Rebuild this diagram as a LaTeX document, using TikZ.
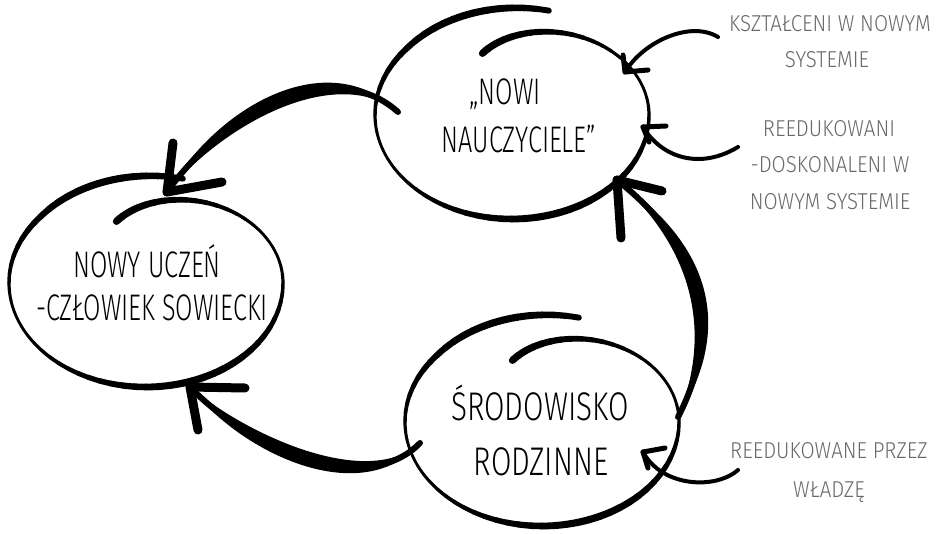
\documentclass[tikz,border=0pt]{standalone}
\usepackage{fontspec}
\setmainfont{Liberation Sans}
\newfontfamily\handA[FakeStretch=0.68, UprightFont={* Light}]{Fira Sans}
\newfontfamily\handC[FakeStretch=0.74, UprightFont={* Light}]{Fira Sans}
\newfontfamily\handG[FakeStretch=0.89, UprightFont={* Light}]{Fira Sans}
\definecolor{labelgray}{RGB}{105,105,105}
\newcommand\handloop[2]{%
  \foreach \ea in {75,80,...,465} {
    \pgfmathsetmacro{\eb}{\ea+5}
    \pgfmathsetmacro{\ew}{5+2.2*cos(2*(\ea+2.5-110))}
    \draw[line width=\ew pt, line cap=round]
      plot[domain=\ea:\eb, samples=4, variable=\t]
      ({#1+137*hs(\t)*cos(\t)}, {#2-104*hs(\t)*sin(\t)});
  }}
\begin{document}
\begin{tikzpicture}[x=1pt,y=-1pt,
  declare function={hs(\t)=1+0.0006*max(0,140-\t)-0.000028*(max(0,\t-360))^2;},
  bigtext/.style={anchor=base, inner sep=0pt, text=black, font=\handA\fontsize{37}{42}\selectfont},
  bigtextc/.style={anchor=base, inner sep=0pt, text=black, font=\handC\fontsize{40}{46}\selectfont},
  graytext/.style={anchor=base, inner sep=0pt, text=labelgray, font=\handG\fontsize{23}{27}\selectfont},
  shaft/.style={line width=6pt, line cap=round},
  barb/.style={line width=9pt, line cap=round},
  thinarrow/.style={line width=4pt, line cap=round},
  thinbarb/.style={line width=5pt, line cap=round}]
\fill[white] (0,0) rectangle (941,534);
\useasboundingbox (0,0) rectangle (941,534);

% hand-drawn loops
\handloop{512}{115}
\handloop{146}{283}
\handloop{542}{422}

% texts
\node[bigtext] (t1a) at (505,105) {„NOWI};
\node[bigtext] (t1b) at (519,153) {NAUCZYCIELE”};
\node[bigtext] (t2a) at (147,277) {NOWY UCZEŃ};
\node[bigtext] (t2b) at (152,320) {-CZŁOWIEK SOWIECKI};
\node[bigtextc] (t3a) at (540,420) {ŚRODOWISKO};
\node[bigtextc] (t3b) at (541,475) {RODZINNE};

\node[graytext] (g1a) at (830,32) {KSZTAŁCENI W NOWYM};
\node[graytext] (g1b) at (827,68) {SYSTEMIE};
\node[graytext] (g2a) at (829,137) {REEDUKOWANI};
\node[graytext] (g2b) at (830,173) {-DOSKONALENI W};
\node[graytext] (g2c) at (830,210) {NOWYM SYSTEMIE};
\node[graytext] (g3a) at (829,458) {REEDUKOWANE PRZEZ};
\node[graytext] (g3b) at (829,497) {WŁADZĘ};

% connector end points
\coordinate (a1s) at (398,112); \coordinate (a1t) at (167,192);
\coordinate (a2s) at (420,443); \coordinate (a2t) at (190,387);
\coordinate (a3s) at (678,417); \coordinate (a3t) at (617,180);
\coordinate (a4s) at (718,37);  \coordinate (a4t) at (625,72);
\coordinate (a5s) at (738,147); \coordinate (a5t) at (643,127);
\coordinate (a6s) at (738,470); \coordinate (a6t) at (643,452);

% thick arrow: nauczyciele -> uczen
\fill (a1s) .. controls (331.7,45.5) and (221.7,100.5) .. (a1t)
            .. controls (228.3,119.5) and (338.3,64.5) .. (a1s);
\draw[shaft] (a1s) .. controls (335,55) and (225,110) .. (a1t);
\draw[barb] (a1t) -- (173,143);
\draw[barb] (a1t) -- (222,182);

% thick arrow: srodowisko -> uczen
\fill (a2s) .. controls (367.4,490.3) and (247.4,435.3) .. (a2t)
            .. controls (242.6,454.7) and (362.6,509.7) .. (a2s);
\draw[shaft] (a2s) .. controls (365,500) and (245,445) .. (a2t);
\draw[barb] (a2t) -- (245,388);
\draw[barb] (a2t) -- (198,430);

% thick arrow: srodowisko -> nauczyciele
\fill (a3s) .. controls (727.7,337.5) and (721.7,252.5) .. (a3t)
            .. controls (702.3,257.5) and (708.3,342.5) .. (a3s);
\draw[shaft] (a3s) .. controls (718,340) and (712,255) .. (a3t);
\draw[barb] (a3t) -- (662,191);
\draw[barb] (a3t) -- (621,238);

% thin arrows from the labels
\draw[thinarrow] (a4s) .. controls (690,20) and (643,42) .. (a4t);
\draw[thinbarb] (a4t) -- (648,70);
\draw[thinbarb] (a4t) -- (623,55);

\draw[thinarrow] (a5s) .. controls (700,170) and (662,158) .. (a5t);
\draw[thinbarb] (a5t) -- (666,126);
\draw[thinbarb] (a5t) -- (649,142);

\draw[thinarrow] (a6s) .. controls (715,490) and (662,487) .. (a6t);
\draw[thinbarb] (a6t) -- (665,448);
\draw[thinbarb] (a6t) -- (648,468);
\end{tikzpicture}
\end{document}
